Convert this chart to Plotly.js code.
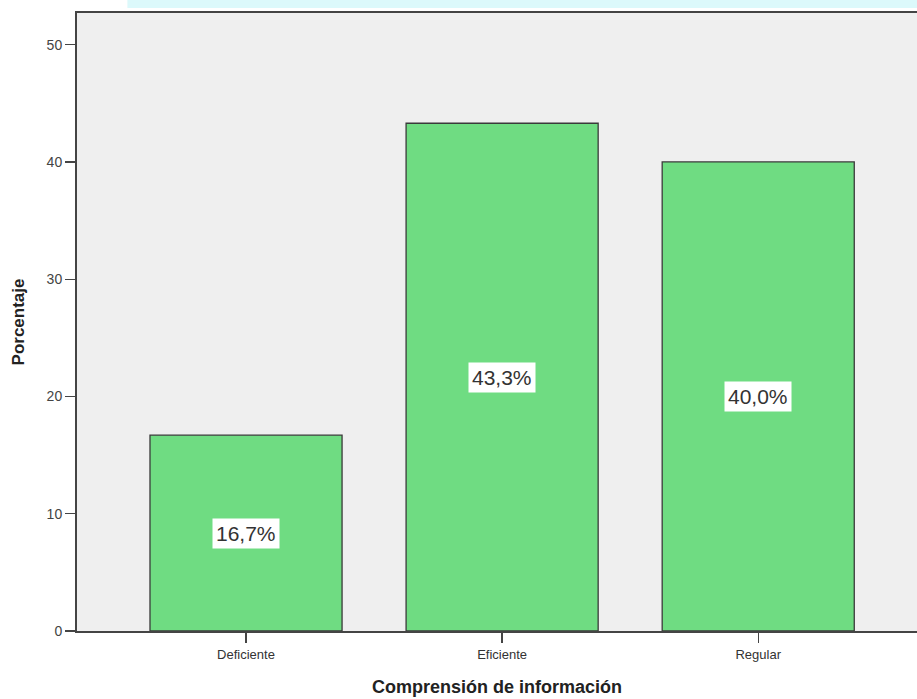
<!DOCTYPE html>
<html><head><meta charset="utf-8">
<script src="https://cdn.plot.ly/plotly-3.0.1.min.js"></script>
<style>html,body{margin:0;padding:0;background:#fff;}#chart{width:917px;height:699px;}</style>
</head><body><div id="chart"></div>
<script>
const categories = ["Deficiente", "Eficiente", "Regular"];
const percentages = [16.7, 43.3, 40.0];
const labels = ["16,7%", "43,3%", "40,0%"];
const yTicks = [0, 10, 20, 30, 40, 50];

const trace = {
  type: 'bar', x: categories, y: percentages, width: 0.75,
  marker: {color: '#6fdc82', line: {color: '#3a3a3a', width: 1.3}},
  hoverinfo: 'none'
};
const annotations = categories.map((c, i) => ({
  x: c, y: percentages[i] / 2, xref: 'x', yref: 'y', text: labels[i], showarrow: false,
  bgcolor: '#ffffff', borderpad: 3,
  font: {family: 'Liberation Sans, Arial', size: 21, color: '#333'}
}));
const layout = {
  width: 917, height: 699,
  margin: {l: 77, r: 0, t: 13, b: 68},
  paper_bgcolor: '#ffffff', plot_bgcolor: '#efefef',
  showlegend: false, bargap: 0.25,
  xaxis: {type: 'category', range: [-0.66, 2.62], showgrid: false, zeroline: false,
    showline: true, linecolor: '#444', linewidth: 2, mirror: true,
    ticks: 'outside', ticklen: 10, tickcolor: '#444', tickwidth: 1.3,
    tickfont: {family: 'Liberation Sans, Arial', size: 13, color: '#333'},
    title: {text: 'Comprensión de información', standoff: 20,
      font: {family: 'Liberation Sans, Arial', size: 18, color: '#222', weight: 'bold'}}},
  yaxis: {range: [0, 52.7], tickvals: yTicks, showgrid: false, zeroline: false,
    showline: true, linecolor: '#444', linewidth: 2,
    ticks: 'outside', ticklen: 10, tickcolor: '#444', tickwidth: 1.3,
    tickfont: {family: 'Liberation Sans, Arial', size: 14, color: '#444'},
    title: {text: 'Porcentaje', standoff: 18,
      font: {family: 'Liberation Sans, Arial', size: 17, color: '#222', weight: 'bold'}}},
  annotations: annotations,
  shapes: [
    {type: 'rect', xref: 'paper', yref: 'paper', x0: 0.06, x1: 1.0, y0: 1.008, y1: 1.03,
      fillcolor: '#dcf9fb', line: {width: 0}, layer: 'below'}
  ]
};
Plotly.newPlot('chart', [trace], layout, {displayModeBar: false, staticPlot: true});
</script></body></html>
